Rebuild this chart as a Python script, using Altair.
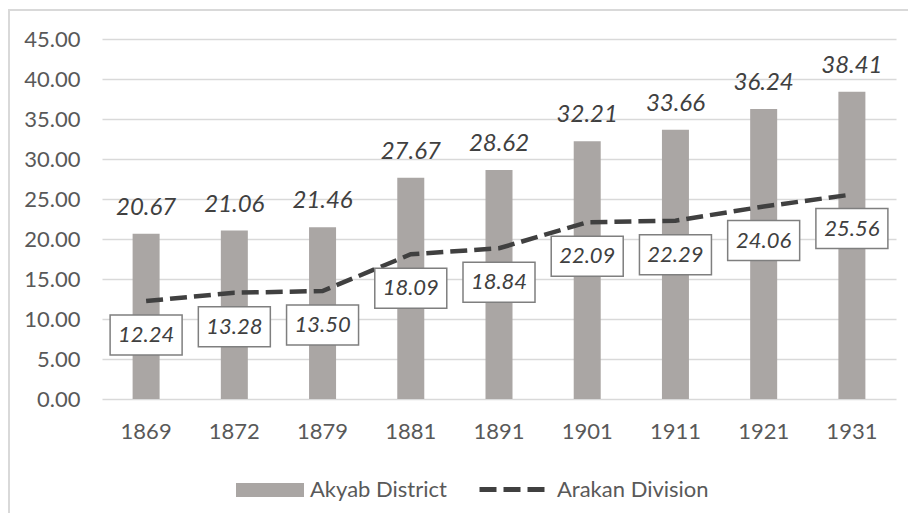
import altair as alt
import pandas as pd

years = ["1869", "1872", "1879", "1881", "1891", "1901", "1911", "1921", "1931"]
akyab = [20.67, 21.06, 21.46, 27.67, 28.62, 32.21, 33.66, 36.24, 38.41]
arakan = [12.24, 13.28, 13.50, 18.09, 18.84, 22.09, 22.29, 24.06, 25.56]
y_ticks = [0, 5, 10, 15, 20, 25, 30, 35, 40, 45]

df = pd.DataFrame({
    "year": years,
    "akyab": akyab,
    "arakan": arakan,
    "s1": ["Akyab District"] * len(years),
    "s2": ["Arakan Division"] * len(years),
})

FONT = "Lato"
BAR = "#AAA6A4"
LINE = "#404040"
TXT = "#404040"
AX = "#595959"

xaxis = alt.Axis(labelAngle=0, labelFontSize=22, labelColor=AX, labelFont=FONT,
                 ticks=False, domain=False, labelPadding=22, grid=False)
yaxis = alt.Axis(values=y_ticks, format=".2f", labelFontSize=22, labelColor=AX,
                 labelFont=FONT, ticks=False, domain=False, labelPadding=22,
                 gridColor="#D9D9D9", gridWidth=1.3, labelOverlap=False, tickCount=10)
xscale = alt.Scale(paddingInner=0, paddingOuter=0)
yscale = alt.Scale(domain=[0, 45], nice=False)


def X():
    return alt.X("year:N", sort=years, title=None, scale=xscale, axis=xaxis)


def Y(field):
    return alt.Y(field, scale=yscale, title=None, axis=yaxis)


base = alt.Chart(df)

bars = base.mark_bar(size=27, color=BAR).encode(
    x=X(),
    y=Y("akyab:Q"),
    color=alt.Color("s1:N", scale=alt.Scale(domain=["Akyab District"], range=[BAR]),
                    legend=alt.Legend(title=None, orient="none", legendX=157, legendY=440,
                                      symbolType="M-4.857,-1H4.857V1H-4.857Z", symbolSize=196,
                                      symbolStrokeWidth=0, labelOffset=29, labelFontSize=22,
                                      labelColor=AX, labelFont=FONT)),
)

bar_labels = base.mark_text(dy=-26, baseline="middle", align="center", fontSize=24,
                            fontStyle="italic", font=FONT, color=TXT).encode(
    x=X(),
    y=Y("akyab:Q"),
    text=alt.Text("akyab:Q", format=".2f"),
)

line = base.mark_line(color=LINE, strokeWidth=4.5).encode(
    x=X(),
    y=Y("arakan:Q"),
    strokeDash=alt.StrokeDash("s2:N", scale=alt.Scale(domain=["Arakan Division"], range=[[17, 7]]),
                              legend=alt.Legend(title=None, orient="none", legendX=375, legendY=413,
                                                symbolType="stroke", symbolSize=4900,
                                                symbolStrokeColor=LINE, symbolStrokeWidth=5,
                                                labelOffset=5, labelFontSize=22,
                                                labelColor=AX, labelFont=FONT)),
)

line_base = base.transform_calculate(label_y="datum.arakan - 4.25")

boxes = line_base.mark_point(shape="M-1.8,-1H1.8V1H-1.8Z", size=1600, filled=True,
                             fill="white", stroke="#7F7F7F", strokeWidth=1.5, opacity=1).encode(
    x=X(),
    y=Y("label_y:Q"),
)

line_labels = line_base.mark_text(baseline="middle", align="center", fontSize=22,
                                  fontStyle="italic", font=FONT, color=TXT).encode(
    x=X(),
    y=Y("label_y:Q"),
    text=alt.Text("arakan:Q", format=".2f"),
)

frame = alt.Chart(pd.DataFrame({"a": [0]})).mark_rect(
    fill=None, stroke="#D9D9D9", strokeWidth=2).encode(
    x=alt.value(-93), x2=alt.value(900), y=alt.value(-29), y2=alt.value(600))

chart = alt.layer(frame, bars, bar_labels, line, boxes, line_labels).resolve_legend(
    color="independent", strokeDash="independent"
).properties(
    width=794, height=360,
    autosize=alt.AutoSizeParams(type="none"),
    padding={"left": 94, "top": 31, "right": 12, "bottom": 114},
).configure_view(stroke=None)

chart.save("out.html", embed_options={"renderer": "svg", "actions": False})
